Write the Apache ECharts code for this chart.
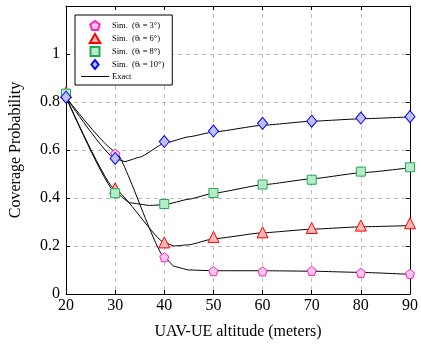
<!DOCTYPE html>
<html lang="en">
<head>
    <meta charset="UTF-8">
    <title>Coverage Probability</title>
    <script src="https://cdn.jsdelivr.net/npm/echarts@6/dist/echarts.min.js"></script>
    <style>
        html, body { margin: 0; padding: 0; background: #fff; }
        #container { width: 421px; height: 348px; }
    </style>
</head>
<body>
<div id="container"></div>
<script type="text/javascript">

    // simulated points
    var altitudes = [20, 30, 40, 50, 60, 70, 80, 90];
    var sim3 = [0.83, 0.585, 0.153, 0.095, 0.094, 0.096, 0.088, 0.084];
    var sim6 = [0.84, 0.44, 0.215, 0.238, 0.257, 0.275, 0.285, 0.295];
    var sim8 = [0.835, 0.42, 0.375, 0.421, 0.456, 0.476, 0.51, 0.528];
    var sim10 = [0.82, 0.565, 0.635, 0.679, 0.711, 0.72, 0.733, 0.739];

    // exact curves
    var exactX3 = [20, 30, 40, 42, 45, 50, 60, 70, 80, 90];
    var exact3 = [0.82, 0.595, 0.155, 0.115, 0.1, 0.097, 0.097, 0.095, 0.09, 0.082];
    var exactX6 = [20, 30, 40, 42, 45, 50, 60, 70, 80, 90];
    var exact6 = [0.82, 0.435, 0.215, 0.2, 0.205, 0.23, 0.255, 0.27, 0.28, 0.285];
    var exactX8 = [20, 30, 33, 37, 40, 45, 50, 60, 70, 80, 90];
    var exact8 = [0.82, 0.425, 0.38, 0.369, 0.372, 0.395, 0.42, 0.455, 0.48, 0.505, 0.526];
    var exactX10 = [20, 30, 32, 35, 40, 45, 50, 60, 70, 80, 90];
    var exact10 = [0.82, 0.564, 0.552, 0.57, 0.628, 0.655, 0.675, 0.703, 0.72, 0.73, 0.738];

    var yTicks = [0, 0.2, 0.4, 0.6, 0.8, 1];
    var simNames = ['Sim.  (θt = 3°)', 'Sim.  (θt = 6°)', 'Sim.  (θt = 8°)', 'Sim.  (θt = 10°)'];

    function pairs(xs, ys) {
        return xs.map(function (x, i) { return [x, ys[i]]; });
    }

    var serif = 'Liberation Serif';
    var pentagon = 'path://M0,-1 L0.951,-0.309 L0.588,0.809 L-0.588,0.809 L-0.951,-0.309 Z';
    var triangle = 'path://M0,0 L1,1.7 L-1,1.7 Z';
    var square = 'path://M0,0 L1,0 L1,1 L0,1 Z';
    var diamond = 'path://M0,0 L0.8,1 L0,2 L-0.8,1 Z';
    var lineIcon = 'path://M0,0 L28,0 L28,1 L0,1 Z';

    function simSeries(name, ys, symbol, size, fill, stroke) {
        return {
            name: name,
            type: 'scatter',
            data: pairs(altitudes, ys),
            symbol: symbol,
            symbolSize: size,
            itemStyle: { color: fill, borderColor: stroke, borderWidth: 1, opacity: 1 },
            z: 5
        };
    }

    function exactSeries(xs, ys) {
        return {
            name: 'Exact',
            type: 'line',
            data: pairs(xs, ys),
            smooth: 0.15,
            smoothMonotone: 'x',
            showSymbol: false,
            symbol: 'none',
            color: '#000',
            lineStyle: { color: '#000', width: 1 },
            z: 3
        };
    }

    var splitLine = { show: true, lineStyle: { color: '#bbb', type: [4, 4], width: 1 } };

    var myChart = echarts.init(document.getElementById('container'));
    myChart.setOption({
        animation: false,
        backgroundColor: '#fff',
        grid: { left: 64, right: 10, top: 6, bottom: 54, show: false },
        legend: {
            orient: 'vertical',
            left: 75,
            top: 15,
            padding: [5, 8, 4, 6],
            itemGap: 2,
            itemWidth: 28,
            itemHeight: 9,
            symbolKeepAspect: true,
            borderColor: '#000',
            borderWidth: 1,
            borderRadius: 0,
            backgroundColor: '#fff',
            textStyle: {
                fontFamily: serif, fontSize: 8.5, color: '#000', lineHeight: 9, padding: [0, 0, 0, -2],
                rich: { s: { fontFamily: serif, fontSize: 5.5, verticalAlign: 'bottom', lineHeight: 9, padding: [3, 0, 0, 0] } }
            },
            formatter: function (name) { return name.replace('θt', 'θ{s|t}'); },
            data: [
                { name: simNames[0], icon: pentagon },
                { name: simNames[1], icon: triangle },
                { name: simNames[2], icon: square },
                { name: simNames[3], icon: diamond },
                { name: 'Exact', icon: lineIcon, itemStyle: { color: '#000', borderWidth: 0 } }
            ]
        },
        xAxis: [{
            type: 'value', min: 20, max: 90, interval: 10,
            name: 'UAV-UE altitude (meters)', nameLocation: 'middle', nameGap: 30,
            nameTextStyle: { fontFamily: serif, fontSize: 16, color: '#000' },
            axisLine: { show: true, onZero: false, lineStyle: { color: '#000', width: 1 } },
            axisTick: { show: true, inside: true, length: 4, lineStyle: { color: '#000' } },
            axisLabel: { fontFamily: serif, fontSize: 16, color: '#000', margin: 4 },
            splitLine: splitLine
        }, {
            type: 'value', min: 20, max: 90, interval: 10, position: 'top',
            axisLine: { show: true, onZero: false, lineStyle: { color: '#000', width: 1 } },
            axisTick: { show: true, inside: true, length: 4, lineStyle: { color: '#000' } },
            axisLabel: { show: false }, splitLine: { show: false }
        }],
        yAxis: [{
            type: 'value', min: 0, max: 1.2, interval: 0.2,
            name: 'Coverage Probability', nameLocation: 'middle', nameGap: 42,
            nameTextStyle: { fontFamily: serif, fontSize: 16, color: '#000' },
            axisLine: { show: true, onZero: false, lineStyle: { color: '#000', width: 1 } },
            axisTick: { show: true, inside: true, length: 4, lineStyle: { color: '#000' } },
            axisLabel: {
                fontFamily: serif, fontSize: 16, color: '#000', margin: 6,
                formatter: function (v) {
                    for (var i = 0; i < yTicks.length; i++) {
                        if (Math.abs(yTicks[i] - v) < 1e-6) return String(yTicks[i]);
                    }
                    return '';
                }
            },
            splitLine: splitLine
        }, {
            type: 'value', min: 0, max: 1.2, interval: 0.2, position: 'right',
            axisLine: { show: true, onZero: false, lineStyle: { color: '#000', width: 1 } },
            axisTick: { show: true, inside: true, length: 4, lineStyle: { color: '#000' } },
            axisLabel: { show: false }, splitLine: { show: false }
        }],
        series: [
            exactSeries(exactX3, exact3),
            exactSeries(exactX6, exact6),
            exactSeries(exactX8, exact8),
            exactSeries(exactX10, exact10),
            simSeries(simNames[0], sim3, pentagon, 9, '#ffc8ee', '#ff22bb'),
            simSeries(simNames[1], sim6, 'triangle', 11, '#ffb8b8', '#ff0000'),
            simSeries(simNames[2], sim8, 'rect', 9, '#b8ecc8', '#22aa55'),
            simSeries(simNames[3], sim10, 'diamond', [10, 12], '#c0c0ff', '#0000ff')
        ]
    });
</script>
</body>
</html>
